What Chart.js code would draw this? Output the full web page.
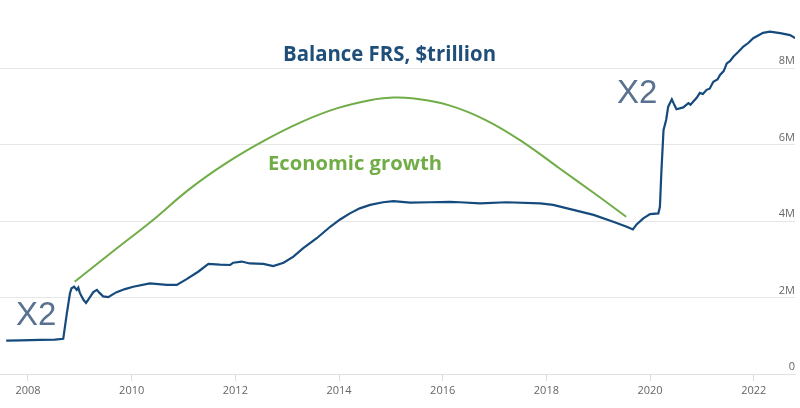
<!DOCTYPE html>
<html>
<head>
<meta charset="utf-8">
<script src="https://cdn.jsdelivr.net/npm/chart.js@4/dist/chart.umd.min.js"></script>
<style>
  html, body { margin: 0; padding: 0; background: #fff; }
  #wrap { width: 800px; height: 408px; position: relative; }
</style>
</head>
<body>
<div id="wrap"><canvas id="chart"></canvas></div>
<script>
// Fed balance sheet, trillions of $ (axis shows them as "M")
const balanceYears = [
  2007.58, 2007.85, 2008.23, 2008.52, 2008.68, 2008.75, 2008.81, 2008.84, 2008.89, 2008.94,
  2008.97, 2009.00, 2009.07, 2009.12, 2009.16, 2009.26, 2009.33, 2009.38, 2009.45, 2009.55,
  2009.62, 2009.71, 2009.87, 2010.03, 2010.35, 2010.68, 2010.87, 2011.06, 2011.29, 2011.48,
  2011.70, 2011.90, 2011.96, 2012.12, 2012.28, 2012.54, 2012.73, 2012.93, 2013.12, 2013.31,
  2013.57, 2013.83, 2014.02, 2014.21, 2014.40, 2014.60, 2014.85, 2015.05, 2015.37, 2015.76,
  2016.14, 2016.33, 2016.72, 2017.23, 2017.88, 2018.13, 2018.52, 2018.91, 2019.29, 2019.55,
  2019.67, 2019.74, 2019.87, 2020.00, 2020.16, 2020.19, 2020.22, 2020.26, 2020.31, 2020.35,
  2020.42, 2020.47, 2020.51, 2020.64, 2020.74, 2020.78, 2020.83, 2020.90, 2020.96, 2021.02,
  2021.09, 2021.15, 2021.22, 2021.30, 2021.35, 2021.42, 2021.48, 2021.54, 2021.61, 2021.70,
  2021.80, 2021.90, 2021.99, 2022.18, 2022.31, 2022.51, 2022.70, 2022.80
];
const balanceValues = [
  0.87, 0.88, 0.89, 0.90, 0.92, 1.59, 2.11, 2.24, 2.28, 2.20,
  2.26, 2.12, 1.94, 1.86, 1.94, 2.14, 2.20, 2.12, 2.03, 2.01,
  2.07, 2.14, 2.22, 2.28, 2.37, 2.33, 2.33, 2.48, 2.68, 2.88,
  2.86, 2.85, 2.91, 2.94, 2.89, 2.88, 2.82, 2.91, 3.07, 3.29,
  3.55, 3.85, 4.04, 4.20, 4.33, 4.42, 4.49, 4.52, 4.48, 4.49,
  4.50, 4.49, 4.46, 4.49, 4.46, 4.42, 4.29, 4.16, 3.98, 3.85,
  3.78, 3.91, 4.07, 4.18, 4.20, 4.37, 5.33, 6.38, 6.64, 6.99,
  7.18, 7.03, 6.92, 6.97, 7.08, 7.04, 7.12, 7.22, 7.35, 7.32,
  7.43, 7.46, 7.64, 7.70, 7.82, 7.92, 8.12, 8.18, 8.30, 8.42,
  8.56, 8.66, 8.78, 8.92, 8.95, 8.91, 8.86, 8.78
];

// hand-drawn "economic growth" arc
const growthYears = [
  2008.90, 2009.69, 2010.37, 2011.12, 2011.83, 2012.54, 2013.26, 2013.97, 2014.68,
  2015.04, 2015.40, 2016.11, 2016.83, 2017.54, 2018.25, 2018.97, 2019.54
];
const growthValues = [
  2.41, 3.26, 3.98, 4.84, 5.52, 6.09, 6.58, 6.95, 7.18,
  7.23, 7.21, 7.03, 6.64, 6.07, 5.38, 4.68, 4.11
];

const yearTicks = [2008, 2010, 2012, 2014, 2016, 2018, 2020, 2022];
const valueTicks = [0, 2, 4, 6, 8];

const toPoints = (xs, ys) => xs.map((x, i) => ({ x: x, y: ys[i] }));

// fit text to a given width (reference uses a condensed font)
function fitText(ctx, text, x, y, width, font, color) {
  ctx.save();
  ctx.font = font;
  ctx.fillStyle = color;
  ctx.textBaseline = 'alphabetic';
  ctx.textAlign = 'left';
  const w = ctx.measureText(text).width;
  ctx.translate(x, y);
  ctx.scale(width / w, 1);
  ctx.fillText(text, 0, 0);
  ctx.restore();
}

const labelsPlugin = {
  id: 'labels',
  afterDatasetsDraw(chart) {
    const ctx = chart.ctx;
    fitText(ctx, 'Balance FRS, $trillion', 283, 61, 213, 'bold 22px "Open Sans"', '#1f4e79');
    fitText(ctx, 'Economic growth', 268, 170, 174, 'bold 20px "Open Sans"', '#70ad47');
    ctx.save();
    ctx.font = '33px "Liberation Sans"';
    ctx.fillStyle = '#5a7290';
    ctx.textBaseline = 'alphabetic';
    ctx.fillText('X2', 16, 325);
    ctx.fillText('X2', 617, 103);
    ctx.restore();
  }
};

new Chart(document.getElementById('chart'), {
  type: 'line',
  data: {
    datasets: [
      {
        label: 'Balance',
        data: toPoints(balanceYears, balanceValues),
        borderColor: '#154a7c',
        borderWidth: 2.2,
        pointRadius: 0,
        tension: 0,
        order: 1
      },
      {
        label: 'Economic growth',
        data: toPoints(growthYears, growthValues),
        borderColor: '#70ad47',
        borderWidth: 2,
        pointRadius: 0,
        tension: 0.4,
        order: 2
      }
    ]
  },
  options: {
    responsive: true,
    maintainAspectRatio: false,
    animation: false,
    layout: { padding: { left: 0, right: 5, top: 0, bottom: 0 } },
    plugins: {
      legend: { display: false },
      tooltip: { enabled: false }
    },
    scales: {
      x: {
        type: 'linear',
        min: 2007.46,
        max: 2022.796,
        afterBuildTicks: (axis) => { axis.ticks = yearTicks.map(v => ({ value: v })); },
        afterFit: (axis) => { axis.height = 34; },
        grid: { drawOnChartArea: false, drawTicks: true, tickLength: 7, color: '#dcdcdc' },
        border: { display: true, color: '#e2e2e2' },
        ticks: {
          autoSkip: false,
          maxRotation: 0,
          padding: 3,
          color: '#666',
          font: { family: 'Open Sans', size: 11 },
          callback: (v) => String(v)
        }
      },
      y: {
        type: 'linear',
        position: 'right',
        min: 0,
        max: 9.778,
        afterBuildTicks: (axis) => { axis.ticks = valueTicks.map(v => ({ value: v })); },
        afterFit: (axis) => { axis.paddingTop = 0; axis.paddingBottom = 0; },
        grid: { drawTicks: false, color: '#e6e6e6' },
        border: { display: false },
        ticks: {
          mirror: true,
          padding: 0,
          labelOffset: -7,
          color: '#666',
          font: { family: 'Open Sans', size: 11 },
          callback: (v) => v === 0 ? '0' : v + 'M'
        }
      }
    }
  },
  plugins: [labelsPlugin]
});
</script>
</body>
</html>
